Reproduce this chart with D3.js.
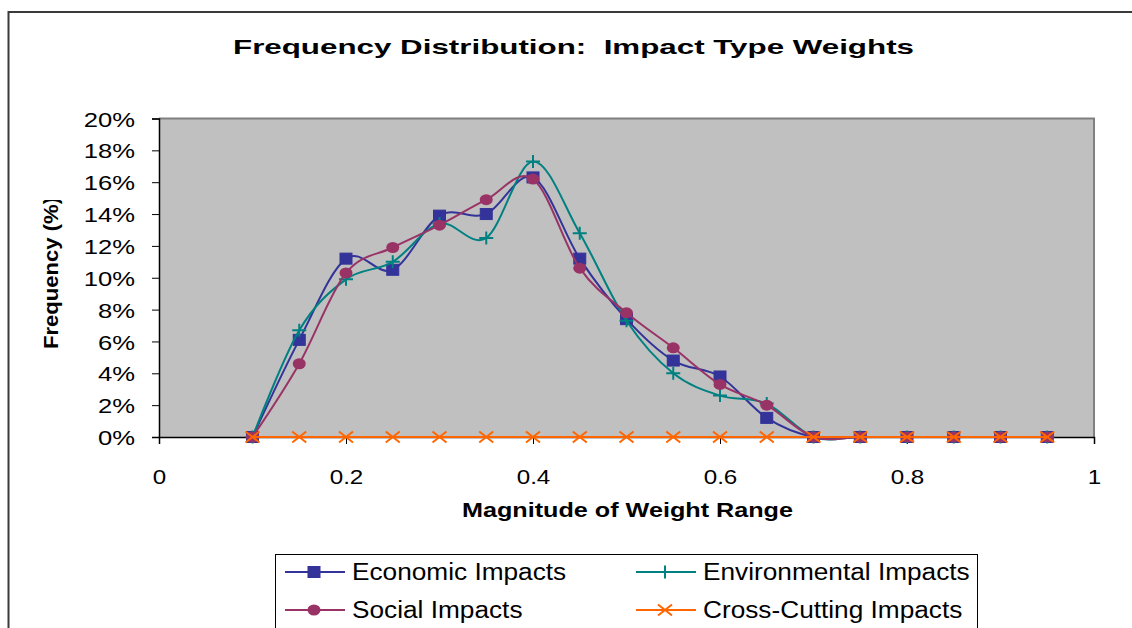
<!DOCTYPE html>
<html>
<head>
<meta charset="utf-8">
<script src="https://cdn.jsdelivr.net/npm/d3@7"></script>
<style>
  html, body { margin: 0; padding: 0; background: #fff; }
  svg { display: block; font-family: "Liberation Sans", Arial, sans-serif; }
  .keep-space { white-space: pre; }
</style>
</head>
<body>
<svg id="chart" width="1132" height="628"></svg>
<script>
// Bin centres of the weight range
const weightBins = [0.1, 0.15, 0.2, 0.25, 0.3, 0.35, 0.4, 0.45, 0.5, 0.55, 0.6, 0.65, 0.7, 0.75, 0.8, 0.85, 0.9, 0.95];

// Frequency per bin, in percent
const economicImpacts      = [0, 6.1, 11.2, 10.5, 13.9, 14.0, 16.3, 11.2, 7.4, 4.8, 3.8, 1.2, 0, 0, 0, 0, 0, 0];
const environmentalImpacts = [0, 6.7, 9.9, 11.0, 13.4, 12.5, 17.3, 12.8, 7.3, 4.0, 2.6, 2.1, 0, 0, 0, 0, 0, 0];
const socialImpacts        = [0, 4.6, 10.3, 11.9, 13.3, 14.9, 16.2, 10.6, 7.8, 5.6, 3.3, 2.0, 0, 0, 0, 0, 0, 0];
const crossCuttingImpacts  = [0, 0, 0, 0, 0, 0, 0, 0, 0, 0, 0, 0, 0, 0, 0, 0, 0, 0];

const seriesNames = ["Economic Impacts", "Environmental Impacts", "Social Impacts", "Cross-Cutting Impacts"];
const xTicks = [0, 0.2, 0.4, 0.6, 0.8, 1];
const yTicks = [0, 0.02, 0.04, 0.06, 0.08, 0.10, 0.12, 0.14, 0.16, 0.18, 0.20];

const titleText = "Frequency Distribution:  Impact Type Weights";
const xTitleText = "Magnitude of Weight Range";
const yTitleText = "Frequency (%)";

const series = [
  { name: seriesNames[0], values: economicImpacts,      color: "#333399", marker: "square" },
  { name: seriesNames[1], values: environmentalImpacts, color: "#008080", marker: "plus" },
  { name: seriesNames[2], values: socialImpacts,        color: "#993366", marker: "circle" },
  { name: seriesNames[3], values: crossCuttingImpacts,  color: "#FF6600", marker: "cross" }
];

const svg = d3.select("#chart");

// widen a text element horizontally by factor k
function stretch(sel, k) {
  sel.each(function () {
    const len = this.getComputedTextLength();
    d3.select(this).attr("textLength", len * k).attr("lengthAdjust", "spacingAndGlyphs");
  });
}

// chart frame
svg.append("rect")
  .attr("x", 8.5).attr("y", 12)
  .attr("width", 1200).attr("height", 700)
  .attr("fill", "#fff").attr("stroke", "#3a3a3a").attr("stroke-width", 2);

const plot = { left: 159, right: 1094, top: 118.5, bottom: 437 };

const x = d3.scaleLinear().domain([0, 1]).range([plot.left, plot.right]);
const y = d3.scaleLinear().domain([0, 0.2]).range([plot.bottom, plot.top]);

// plot area
svg.append("rect")
  .attr("x", plot.left).attr("y", plot.top)
  .attr("width", plot.right - plot.left).attr("height", plot.bottom - plot.top)
  .attr("fill", "#C0C0C0");
svg.append("path")
  .attr("d", `M${plot.left},${plot.top}H${plot.right}V${plot.bottom}`)
  .attr("fill", "none").attr("stroke", "#808080").attr("stroke-width", 2);

// title
svg.append("text")
  .attr("class", "keep-space")
  .attr("x", 573.5).attr("y", 54)
  .attr("text-anchor", "middle")
  .attr("font-size", 20.5).attr("font-weight", "bold")
  .attr("textLength", 681).attr("lengthAdjust", "spacingAndGlyphs")
  .text(titleText);

// y axis
const yAxis = svg.append("g")
  .attr("transform", `translate(${plot.left},0)`)
  .call(d3.axisLeft(y).tickValues(yTicks).tickFormat(d3.format(".0%")).tickSize(7).tickPadding(17));
yAxis.select(".domain").attr("stroke", "#000").attr("stroke-width", 1.5);
yAxis.selectAll(".tick line").attr("stroke", "#000");
yAxis.selectAll(".tick text")
  .attr("font-family", "Liberation Sans, Arial, sans-serif")
  .attr("font-size", 21).attr("fill", "#000")
  .attr("dy", "0.36em");
stretch(yAxis.selectAll(".tick text"), 1.22);

// x axis
const xAxis = svg.append("g")
  .attr("transform", `translate(0,${plot.bottom})`)
  .call(d3.axisBottom(x).tickValues(xTicks).tickFormat(d3.format("")).tickSize(7).tickPadding(25));
xAxis.select(".domain").attr("stroke", "#000").attr("stroke-width", 1.5);
xAxis.selectAll(".tick line").attr("stroke", "#000");
xAxis.selectAll(".tick text")
  .attr("font-family", "Liberation Sans, Arial, sans-serif")
  .attr("font-size", 20.5).attr("fill", "#000");
stretch(xAxis.selectAll(".tick text"), 1.18);

// axis titles
svg.append("text")
  .attr("x", 627.5).attr("y", 517)
  .attr("text-anchor", "middle")
  .attr("font-size", 21).attr("font-weight", "bold")
  .attr("textLength", 331).attr("lengthAdjust", "spacingAndGlyphs")
  .text(xTitleText);

svg.append("clipPath").attr("id", "ytitle-clip")
  .append("rect").attr("x", 0).attr("y", 200).attr("width", 120).attr("height", 300);
svg.append("g").attr("clip-path", "url(#ytitle-clip)")
  .append("text")
  .attr("transform", "translate(58,273) rotate(-90)")
  .attr("text-anchor", "middle")
  .attr("font-size", 21).attr("font-weight", "bold")
  .attr("textLength", 152).attr("lengthAdjust", "spacingAndGlyphs")
  .text(yTitleText);

// marker shapes
function drawMarker(g, type, color) {
  if (type === "square") {
    g.append("rect").attr("x", -6).attr("y", -5.5).attr("width", 12).attr("height", 11)
      .attr("fill", color).attr("stroke", color).attr("stroke-width", 1);
  } else if (type === "circle") {
    g.append("ellipse").attr("rx", 6.5).attr("ry", 5.5).attr("fill", color);
  } else if (type === "plus") {
    g.append("path").attr("d", "M-7,0H7M0,-6.5V6.5")
      .attr("stroke", color).attr("stroke-width", 2).attr("fill", "none");
  } else if (type === "cross") {
    g.append("path").attr("d", "M-7,-5.5L7,5.5M-7,5.5L7,-5.5")
      .attr("stroke", color).attr("stroke-width", 2).attr("fill", "none");
  }
}

const line = d3.line()
  .x(d => x(d[0]))
  .y(d => y(d[1] / 100))
  .curve(d3.curveCardinal.tension(0));

series.forEach(s => {
  const pts = weightBins.map((b, i) => [b, s.values[i]]);
  const g = svg.append("g");
  g.append("path")
    .datum(pts)
    .attr("d", line)
    .attr("fill", "none").attr("stroke", s.color).attr("stroke-width", 2);
  g.selectAll("g.m").data(pts).join("g")
    .attr("class", "m")
    .attr("transform", d => `translate(${x(d[0])},${y(d[1] / 100)})`)
    .each(function () { drawMarker(d3.select(this), s.marker, s.color); });
});

// legend
const legend = svg.append("g");
legend.append("rect")
  .attr("x", 275.5).attr("y", 554.5).attr("width", 702).attr("height", 120)
  .attr("fill", "#fff").attr("stroke", "#000").attr("stroke-width", 1);

const legendPos = [
  { lx: 285, ty: 572 },
  { lx: 636, ty: 572 },
  { lx: 285, ty: 610 },
  { lx: 636, ty: 610 }
];

series.forEach((s, i) => {
  const p = legendPos[i];
  const item = legend.append("g");
  item.append("line")
    .attr("x1", p.lx).attr("x2", p.lx + 60)
    .attr("y1", p.ty).attr("y2", p.ty)
    .attr("stroke", s.color).attr("stroke-width", 2);
  const m = item.append("g").attr("transform", `translate(${p.lx + 29},${p.ty})`);
  drawMarker(m, s.marker, s.color);
  item.append("text")
    .attr("x", p.lx + 67).attr("y", p.ty + 8)
    .attr("font-size", 23).attr("fill", "#000")
    .text(s.name);
});
stretch(legend.selectAll("text"), 1.14);
</script>
</body>
</html>
